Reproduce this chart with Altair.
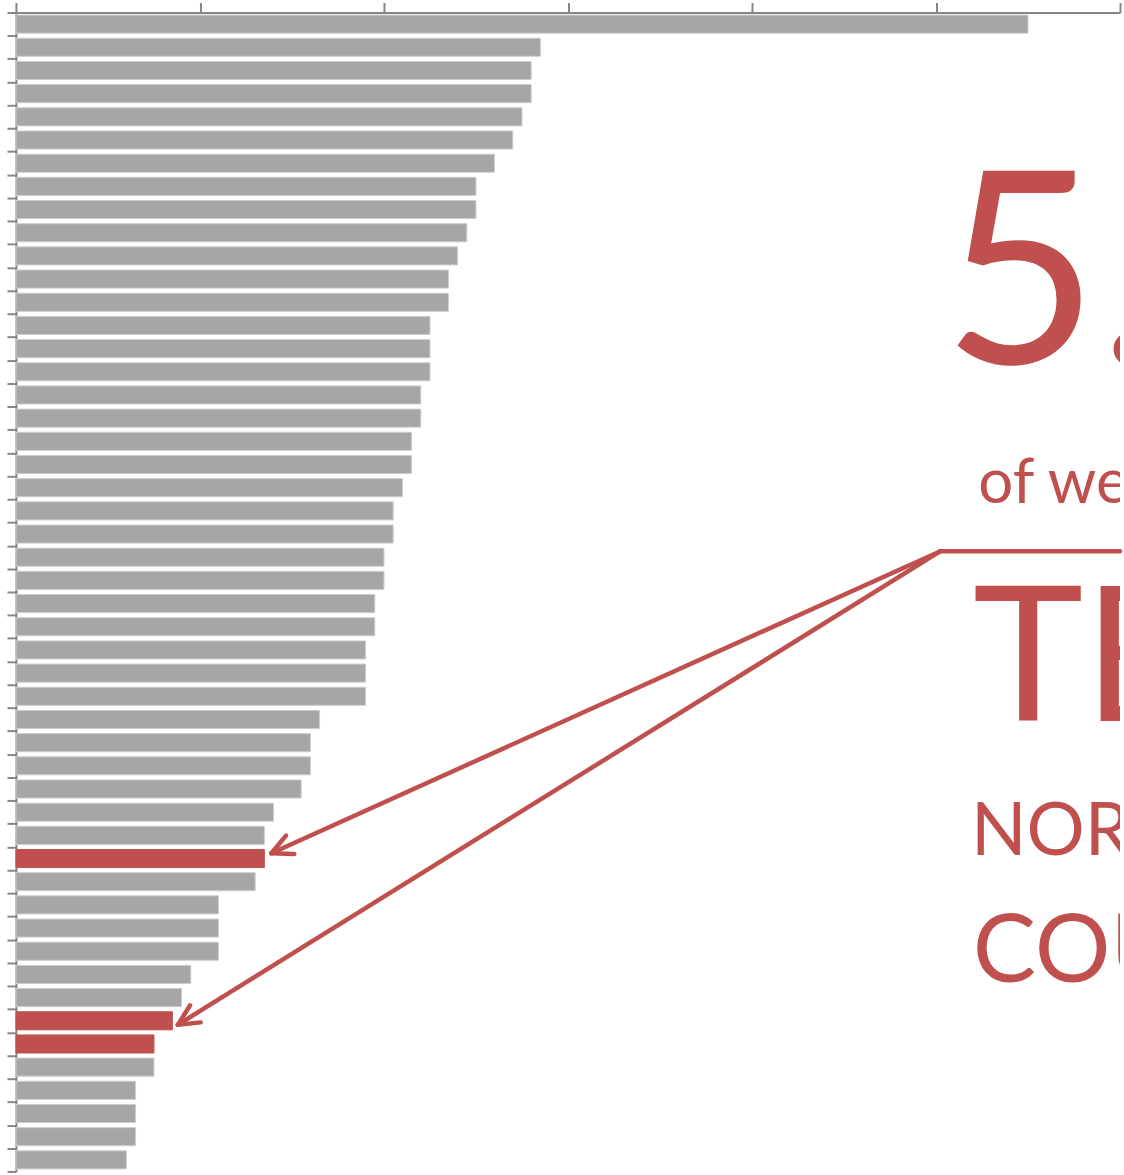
import math
import altair as alt
import pandas as pd

# ---- data (top to bottom) ----
values = [5.50, 2.85, 2.80, 2.80, 2.75, 2.70, 2.60, 2.50, 2.50, 2.45,
          2.40, 2.35, 2.35, 2.25, 2.25, 2.25, 2.20, 2.20, 2.15, 2.15,
          2.10, 2.05, 2.05, 2.00, 2.00, 1.95, 1.95, 1.90, 1.90, 1.90,
          1.65, 1.60, 1.60, 1.55, 1.40, 1.35, 1.35, 1.30, 1.10, 1.10,
          1.10, 0.95, 0.90, 0.85, 0.75, 0.75, 0.65, 0.65, 0.65, 0.60]
highlighted = [36, 43, 44]
x_ticks = [0, 1, 2, 3, 4, 5, 6]

RED = "#C0504D"
GREY = "#A6A6A6"
AXIS = "#868686"
FONT = "Lato"

W, H = 1107, 1162
N = len(values)
XMAX = x_ticks[-1]

bars_df = pd.DataFrame({
    "rank": list(range(N)),
    "value": values,
    "group": ["highlight" if i in highlighted else "other" for i in range(N)],
})

xscale = alt.Scale(domain=[0, XMAX], nice=False, zero=True)
yscale = alt.Scale(domain=[0, N], nice=False, zero=False, reverse=True)
xaxis = alt.Axis(orient="top", values=x_ticks, labels=False, tickSize=10,
                 grid=False, title=None, domainColor=AXIS, tickColor=AXIS,
                 domainWidth=2, tickWidth=2)
yaxis = alt.Axis(orient="left", values=list(range(N + 1)), labels=False,
                 tickSize=9, grid=False, title=None, domainColor=AXIS,
                 tickColor=AXIS, domainWidth=2, tickWidth=2)

bars = alt.Chart(bars_df).transform_calculate(
    top="datum.rank + 0.11", bottom="datum.rank + 0.89"
).mark_rect(strokeWidth=1).encode(
    x=alt.X("value:Q", scale=xscale, axis=xaxis),
    x2=alt.datum(0),
    y=alt.Y("top:Q", scale=yscale, axis=yaxis),
    y2="bottom:Q",
    color=alt.Color("group:N", scale=alt.Scale(domain=["other", "highlight"], range=[GREY, RED]), legend=None),
    stroke=alt.Stroke("group:N", scale=alt.Scale(domain=["other", "highlight"], range=["#CDCDCD", RED]), legend=None),
)

# ---- callout (in data units) ----
start = (5.024, 23.24)
arrow_targets = [(36, 0.038, 0.27), (43, 0.03, 0.67)]
ux, uy = W / XMAX, H / N
segs = []
for rank, dx, dy in arrow_targets:
    tx, ty = values[rank] + dx, rank + dy
    segs.append({"x": start[0], "y": start[1], "x2": tx, "y2": ty})
    ang = math.atan2((start[1] - ty) * uy, (start[0] - tx) * ux)
    for da in (-26, 26):
        a = ang + math.radians(da)
        segs.append({"x": tx, "y": ty,
                     "x2": tx + 23 * math.cos(a) / ux,
                     "y2": ty + 23 * math.sin(a) / uy})
segs.append({"x": start[0], "y": start[1], "x2": XMAX, "y2": start[1]})

arrows = alt.Chart(pd.DataFrame(segs)).mark_rule(
    color=RED, strokeWidth=4.5, strokeCap="round"
).encode(
    x=alt.X("x:Q", scale=xscale, axis=xaxis),
    y=alt.Y("y:Q", scale=yscale, axis=yaxis),
    x2="x2:Q", y2="y2:Q",
)

notes = [
    ("5.5%", 5.035, 15.15, 270),
    ("of wealth", 5.23, 21.17, 62),
    ("TEN", 5.20, 30.55, 188),
    ("NORDIC", 5.19, 36.36, 73),
    ("COUNTRIES", 5.20, 41.82, 95),
]
texts = []
for txt, tx, ty, fs in notes:
    texts.append(
        alt.Chart(pd.DataFrame({"x": [tx], "y": [ty]})).mark_text(
            text=txt, align="left", baseline="alphabetic", font=FONT,
            fontSize=fs, color=RED, clip=True
        ).encode(
            x=alt.X("x:Q", scale=xscale, axis=xaxis),
            y=alt.Y("y:Q", scale=yscale, axis=yaxis),
        )
    )

chart = alt.layer(bars, arrows, *texts).properties(
    width=W, height=H,
    padding={"left": 6, "top": 0, "right": 1, "bottom": 2},
).configure_view(stroke=None)

chart.save("out.html", embed_options={"renderer": "svg", "actions": False})
